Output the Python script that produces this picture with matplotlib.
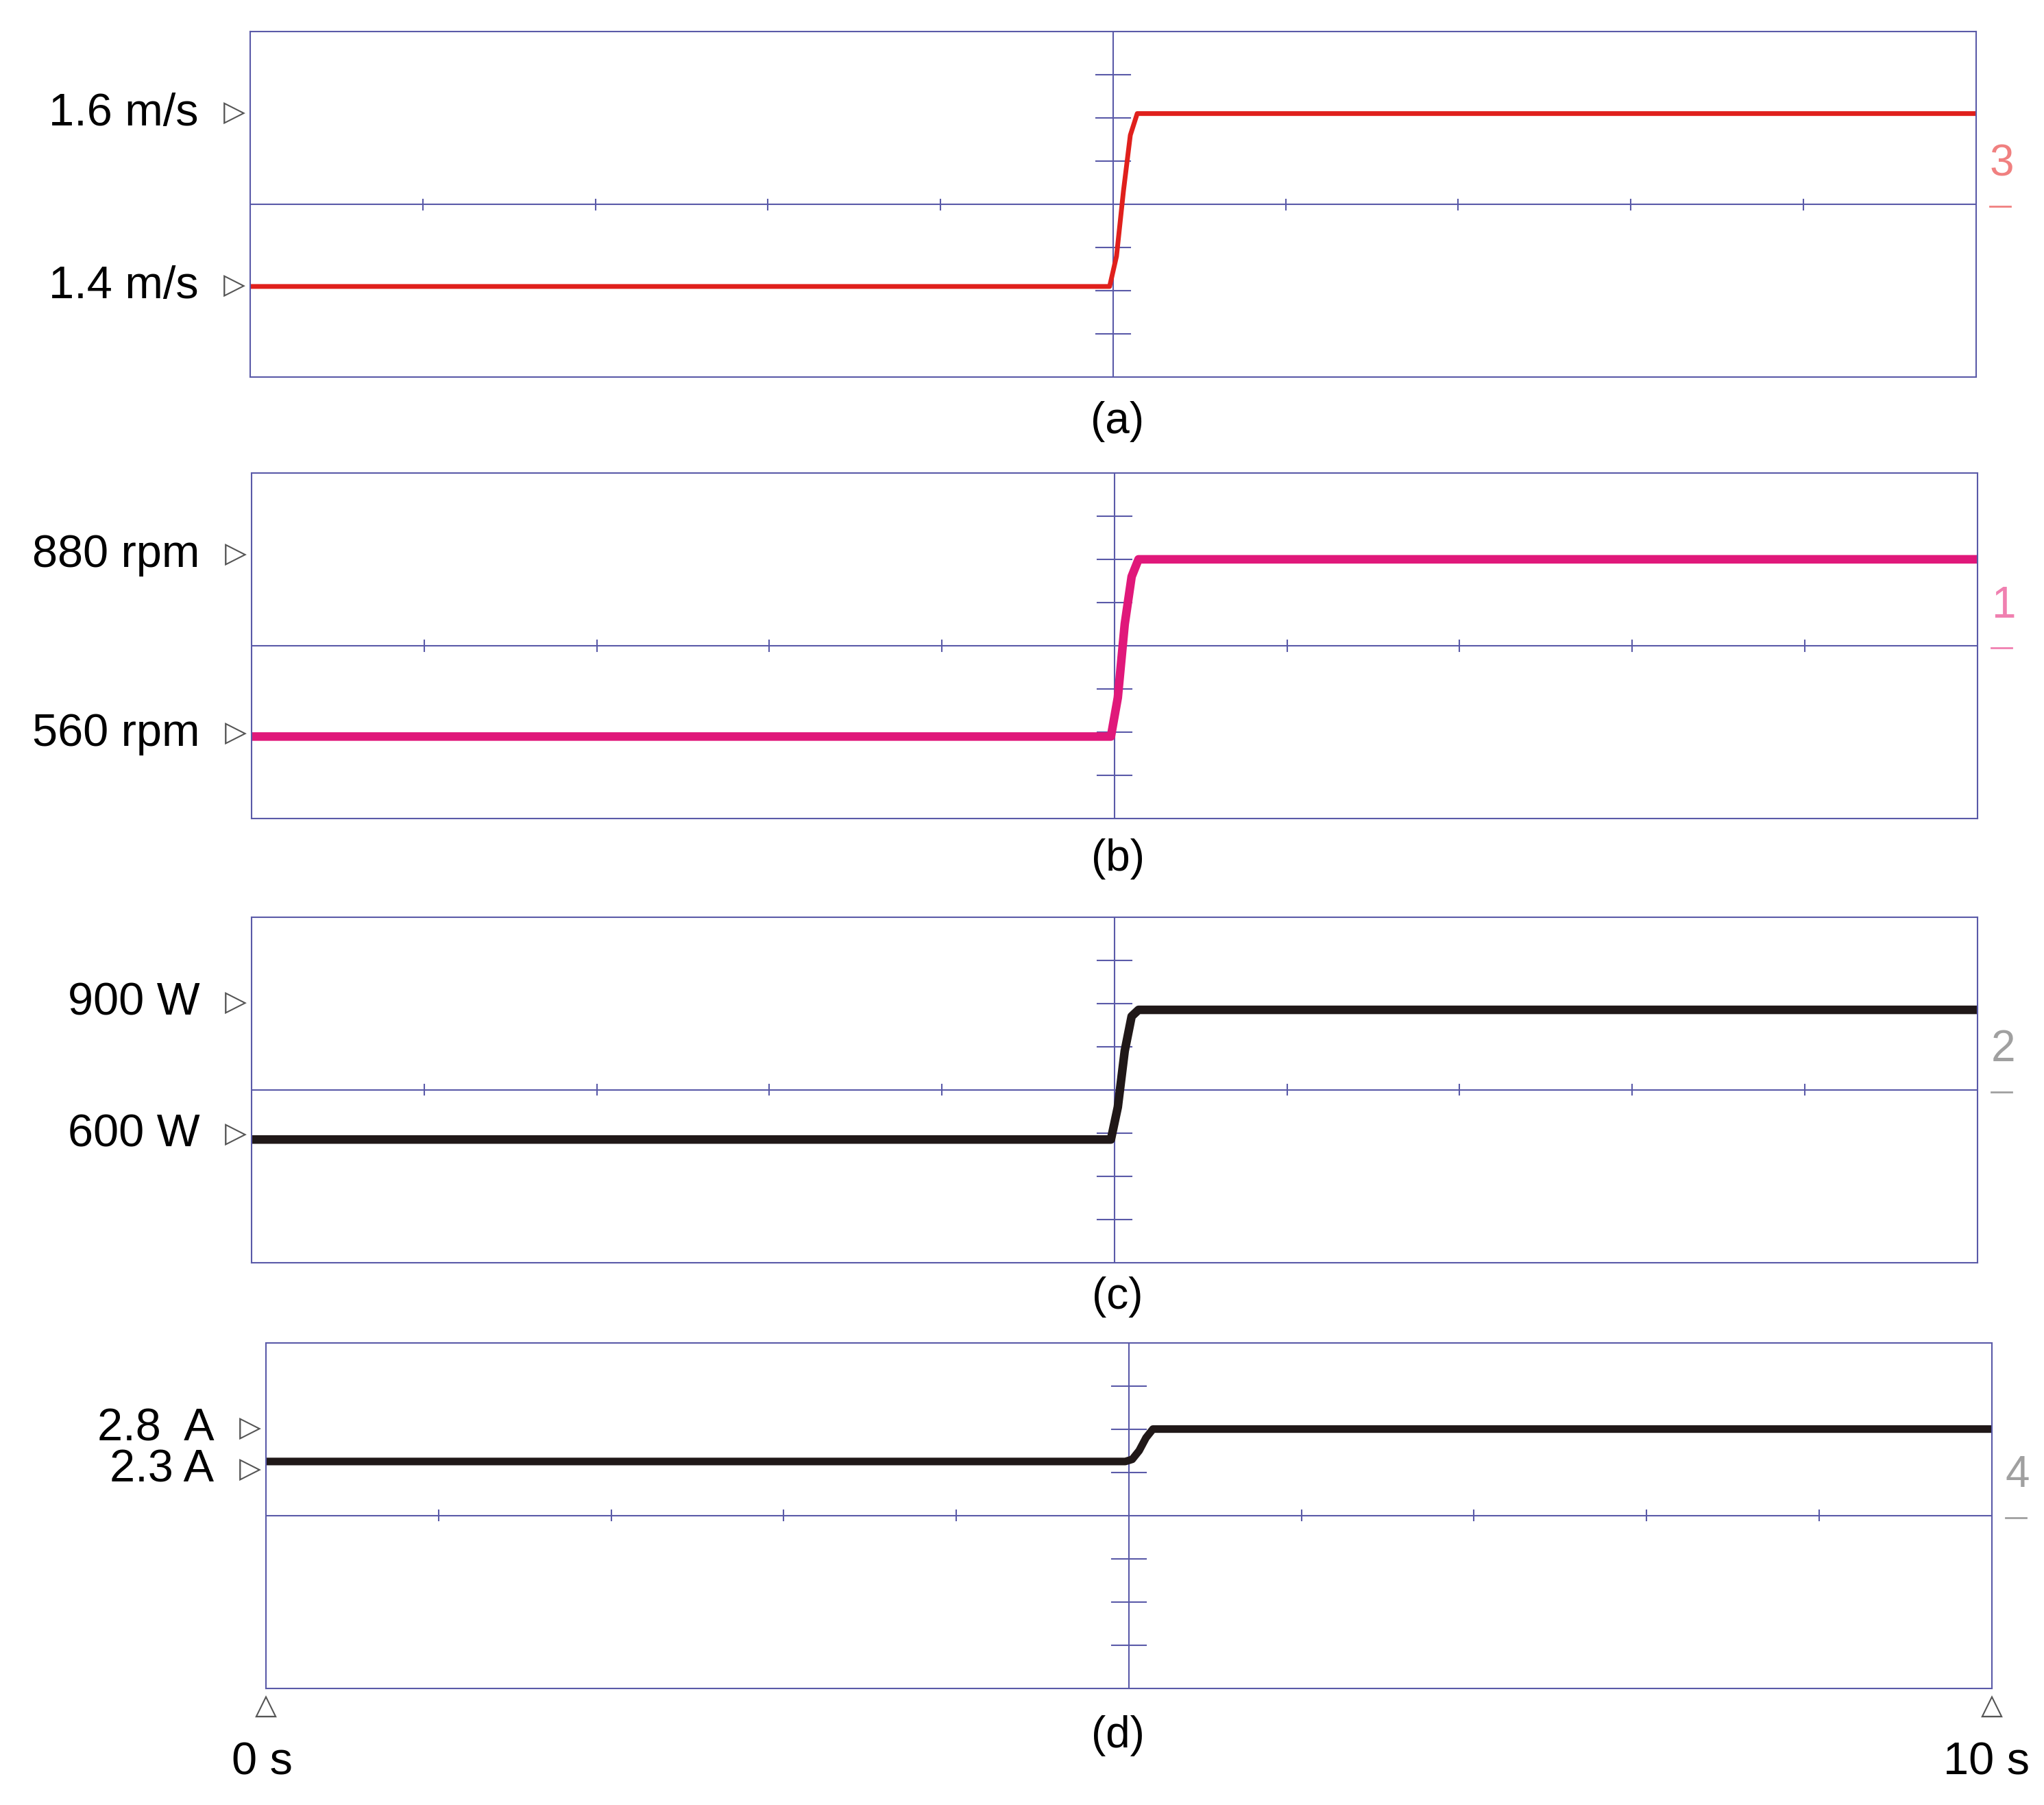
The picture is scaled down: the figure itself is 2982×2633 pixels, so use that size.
import numpy as np
import matplotlib.pyplot as plt

plt.rcParams['font.family'] = ['Liberation Sans', 'DejaVu Sans']

# trace levels in screen divisions (centre line = 0)
t = [0, 4.98, 5.02, 5.06, 5.10, 5.14, 10]
lv_a = [-1.9, -1.9, -1.2, 0.3, 1.6, 2.1, 2.1]
lv_b = [-2.1, -2.1, -1.2, 0.5, 1.6, 2.0, 2.0]
lv_c = [-1.15, -1.15, -0.4, 0.9, 1.7, 1.85, 1.85]
lv_d = [1.25, 1.25, 1.3, 1.5, 1.8, 2.0, 2.0]

labels_a = ['1.6 m/s', '1.4 m/s']
labels_b = ['880 rpm', '560 rpm']
labels_c = ['900 W', '600 W']
labels_d = ['2.8  A', '2.3 A']
label_pos_a = [2.1, -1.9]
label_pos_b = [2.1, -2.05]
label_pos_c = [2.0, -1.05]
label_pos_d = [2.0, 1.05]

W, H = 1560, 1378
fig = plt.figure(figsize=(29.82, 26.33), dpi=100)
frame = '#5a5aa8'

panels = [
    (191, 24, t, lv_a, '#e0201c', 5, labels_a, label_pos_a, '3', '#f08080', '(a)', 322),
    (192, 361, t, lv_b, '#e0187a', 9, labels_b, label_pos_b, '1', '#f080b0', '(b)', 656),
    (192, 700, t, lv_c, '#201818', 9, labels_c, label_pos_c, '2', '#a0a0a0', '(c)', 990),
    (203, 1025, t, lv_d, '#201818', 8, labels_d, label_pos_d, '4', '#a0a0a0', '(d)', 1325),
]

for x0, y0, tt, lv, col, lw, labs, lpos, ch, chcol, cap, capy in panels:
    ax = fig.add_axes([x0 / W, 1 - (y0 + 264) / H, 1317 / W, 264 / H])
    ax.set_xlim(0, 10)
    ax.set_ylim(-4, 4)
    ax.set_xticks([])
    ax.set_yticks([])
    for s in ax.spines.values():
        s.set_color(frame)
        s.set_linewidth(1.5)
    ax.axhline(0, color=frame, lw=1.5)
    ax.axvline(5, color=frame, lw=1.5)
    for k in range(1, 10):
        if k != 5:
            ax.plot([k, k], [-0.12, 0.12], color=frame, lw=1.5)
    for k in range(-3, 4):
        if k != 0:
            ax.plot([4.9, 5.1], [k, k], color=frame, lw=1.5)
    ax.plot(tt, lv, color=col, lw=lw, solid_capstyle='butt')
    for lab, p in zip(labs, lpos):
        ax.text(-0.03, p, '▷', ha='right', va='center', fontsize=30,
                color='#555555', clip_on=False)
        ax.text(-0.3, p, lab, ha='right', va='center', fontsize=48, clip_on=False)
    ax.text(10.08, 0.45, ch, color=chcol, fontsize=46, ha='left', va='bottom',
            clip_on=False)
    ax.plot([10.08, 10.2], [-0.05, -0.05], color=chcol, lw=2, clip_on=False)
    fig.text(853 / W, 1 - capy / H, cap, ha='center', va='center', fontsize=46)

fig.text(203 / W, 1 - 1303 / H, '△', ha='center', va='center', fontsize=30, color='#555555')
fig.text(1520 / W, 1 - 1303 / H, '△', ha='center', va='center', fontsize=30, color='#555555')
fig.text(200 / W, 1 - 1346 / H, '0 s', ha='center', va='center', fontsize=48)
fig.text(1516 / W, 1 - 1346 / H, '10 s', ha='center', va='center', fontsize=48)

fig.savefig('out.png', dpi=100)
